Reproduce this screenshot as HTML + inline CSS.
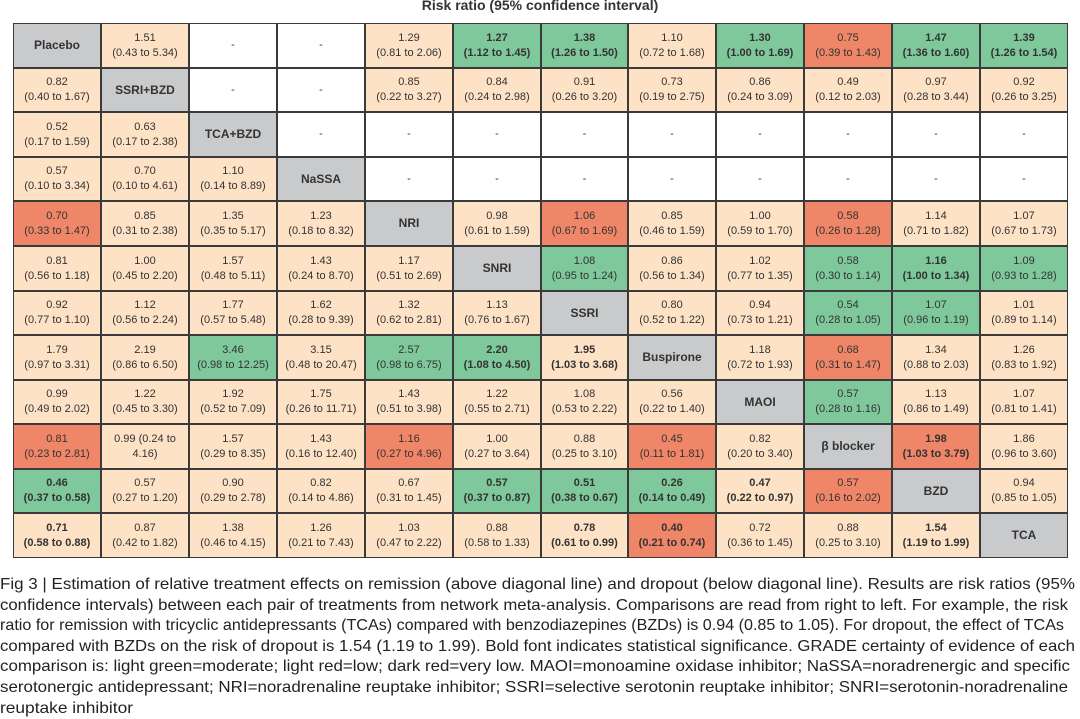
<!DOCTYPE html>
<html><head><meta charset="utf-8">
<style>
body{margin:0;width:1080px;height:716px;background:#fff;font-family:"Liberation Sans",sans-serif;color:#2b2b2b;overflow:hidden;position:relative}
#title{position:absolute;left:0;width:1080px;top:-3px;text-align:center;font-weight:bold;font-size:14px;color:#333}
#grid{position:absolute;left:13px;top:23px;width:1055px;height:535px;background:#3a3a3a}
.cell{position:absolute;display:flex;align-items:center;justify-content:center;text-align:center;font-size:11px;line-height:15px;box-sizing:border-box;color:#333}
.b{font-weight:bold}
.diag{font-weight:bold;font-size:12px}
#caption{position:absolute;left:0;top:575px;font-size:16px;line-height:20.6px;color:#222}
#caption div{white-space:nowrap;transform-origin:0 0;height:20.6px}
</style></head><body>
<div id="title">Risk ratio (95% confidence interval)</div>
<div id="grid"></div>
<div id="caption">
<div class="ln" data-w="1075">Fig 3 | Estimation of relative treatment effects on remission (above diagonal line) and dropout (below diagonal line). Results are risk ratios (95%</div>
<div class="ln" data-w="1068">confidence intervals) between each pair of treatments from network meta-analysis. Comparisons are read from right to left. For example, the risk</div>
<div class="ln" data-w="1064">ratio for remission with tricyclic antidepressants (TCAs) compared with benzodiazepines (BZDs) is 0.94 (0.85 to 1.05). For dropout, the effect of TCAs</div>
<div class="ln" data-w="1075">compared with BZDs on the risk of dropout is 1.54 (1.19 to 1.99). Bold font indicates statistical significance. GRADE certainty of evidence of each</div>
<div class="ln" data-w="1070">comparison is: light green=moderate; light red=low; dark red=very low. MAOI=monoamine oxidase inhibitor; NaSSA=noradrenergic and specific</div>
<div class="ln" data-w="1068">serotonergic antidepressant; NRI=noradrenaline reuptake inhibitor; SSRI=selective serotonin reuptake inhibitor; SNRI=serotonin-noradrenaline</div>
<div class="ln" data-w="133">reuptake inhibitor</div>
</div>
<script>
const treatments=["Placebo","SSRI+BZD","TCA+BZD","NaSSA","NRI","SNRI","SSRI","Buspirone","MAOI","β blocker","BZD","TCA"];
const rows=[
["D","p|1.51|0.43 to 5.34","w|-","w|-","p|1.29|0.81 to 2.06","g*|1.27|1.12 to 1.45","g*|1.38|1.26 to 1.50","p|1.10|0.72 to 1.68","g*|1.30|1.00 to 1.69","r|0.75|0.39 to 1.43","g*|1.47|1.36 to 1.60","g*|1.39|1.26 to 1.54"],
["p|0.82|0.40 to 1.67","D","w|-","w|-","p|0.85|0.22 to 3.27","p|0.84|0.24 to 2.98","p|0.91|0.26 to 3.20","p|0.73|0.19 to 2.75","p|0.86|0.24 to 3.09","p|0.49|0.12 to 2.03","p|0.97|0.28 to 3.44","p|0.92|0.26 to 3.25"],
["p|0.52|0.17 to 1.59","p|0.63|0.17 to 2.38","D","w|-","w|-","w|-","w|-","w|-","w|-","w|-","w|-","w|-"],
["p|0.57|0.10 to 3.34","p|0.70|0.10 to 4.61","p|1.10|0.14 to 8.89","D","w|-","w|-","w|-","w|-","w|-","w|-","w|-","w|-"],
["r|0.70|0.33 to 1.47","p|0.85|0.31 to 2.38","p|1.35|0.35 to 5.17","p|1.23|0.18 to 8.32","D","p|0.98|0.61 to 1.59","r|1.06|0.67 to 1.69","p|0.85|0.46 to 1.59","p|1.00|0.59 to 1.70","r|0.58|0.26 to 1.28","p|1.14|0.71 to 1.82","p|1.07|0.67 to 1.73"],
["p|0.81|0.56 to 1.18","p|1.00|0.45 to 2.20","p|1.57|0.48 to 5.11","p|1.43|0.24 to 8.70","p|1.17|0.51 to 2.69","D","g|1.08|0.95 to 1.24","p|0.86|0.56 to 1.34","p|1.02|0.77 to 1.35","g|0.58|0.30 to 1.14","g*|1.16|1.00 to 1.34","g|1.09|0.93 to 1.28"],
["p|0.92|0.77 to 1.10","p|1.12|0.56 to 2.24","p|1.77|0.57 to 5.48","p|1.62|0.28 to 9.39","p|1.32|0.62 to 2.81","p|1.13|0.76 to 1.67","D","p|0.80|0.52 to 1.22","p|0.94|0.73 to 1.21","g|0.54|0.28 to 1.05","g|1.07|0.96 to 1.19","p|1.01|0.89 to 1.14"],
["p|1.79|0.97 to 3.31","p|2.19|0.86 to 6.50","g|3.46|0.98 to 12.25","p|3.15|0.48 to 20.47","g|2.57|0.98 to 6.75","g*|2.20|1.08 to 4.50","p*|1.95|1.03 to 3.68","D","p|1.18|0.72 to 1.93","r|0.68|0.31 to 1.47","p|1.34|0.88 to 2.03","p|1.26|0.83 to 1.92"],
["p|0.99|0.49 to 2.02","p|1.22|0.45 to 3.30","p|1.92|0.52 to 7.09","p|1.75|0.26 to 11.71","p|1.43|0.51 to 3.98","p|1.22|0.55 to 2.71","p|1.08|0.53 to 2.22","p|0.56|0.22 to 1.40","D","g|0.57|0.28 to 1.16","p|1.13|0.86 to 1.49","p|1.07|0.81 to 1.41"],
["r|0.81|0.23 to 2.81","p|0.99 (0.24 to|4.16)","p|1.57|0.29 to 8.35","p|1.43|0.16 to 12.40","r|1.16|0.27 to 4.96","p|1.00|0.27 to 3.64","p|0.88|0.25 to 3.10","r|0.45|0.11 to 1.81","p|0.82|0.20 to 3.40","D","r*|1.98|1.03 to 3.79","p|1.86|0.96 to 3.60"],
["g*|0.46|0.37 to 0.58","p|0.57|0.27 to 1.20","p|0.90|0.29 to 2.78","p|0.82|0.14 to 4.86","p|0.67|0.31 to 1.45","g*|0.57|0.37 to 0.87","g*|0.51|0.38 to 0.67","g*|0.26|0.14 to 0.49","p*|0.47|0.22 to 0.97","r|0.57|0.16 to 2.02","D","p|0.94|0.85 to 1.05"],
["p*|0.71|0.58 to 0.88","p|0.87|0.42 to 1.82","p|1.38|0.46 to 4.15","p|1.26|0.21 to 7.43","p|1.03|0.47 to 2.22","p|0.88|0.58 to 1.33","p*|0.78|0.61 to 0.99","r*|0.40|0.21 to 0.74","p|0.72|0.36 to 1.45","p|0.88|0.25 to 3.10","p*|1.54|1.19 to 1.99","D"]
];
const colors={p:"#fde2c6",g:"#7ec89c",r:"#f08668",w:"#ffffff",D:"#c9cacc"};
const grid=document.getElementById('grid');
const N=12,cw=1055/N,ch=535/N;
rows.forEach((row,i)=>{row.forEach((s,j)=>{
  const el=document.createElement('div');
  
  
  el.className='cell';
  const x0=Math.round(j*cw)+1,x1=Math.round((j+1)*cw)-1,y0=Math.round(i*ch)+1,y1=Math.round((i+1)*ch)-1;
  el.style.left=x0+'px';el.style.top=y0+'px';el.style.width=(x1-x0)+'px';el.style.height=(y1-y0)+'px';
  if(s==="D"){el.style.background=colors.D;el.classList.add('diag');el.textContent=treatments[i];}
  else{const parts=s.split('|');const k=parts[0];el.style.background=colors[k[0]];
    if(k.includes('*'))el.classList.add('b');
    if(parts.length===2)el.textContent=parts[1];
    else if(parts[1].includes('('))el.innerHTML=parts[1]+'<br>'+parts[2];
    else el.innerHTML=parts[1]+'<br>('+parts[2]+')';}
  grid.appendChild(el);
});});
document.querySelectorAll('#caption .ln').forEach(d=>{d.style.display='inline-block';const w=d.getBoundingClientRect().width;d.style.display='block';d.style.transform='scaleX('+(parseFloat(d.dataset.w)/w)+')';});
</script>
</body></html>
